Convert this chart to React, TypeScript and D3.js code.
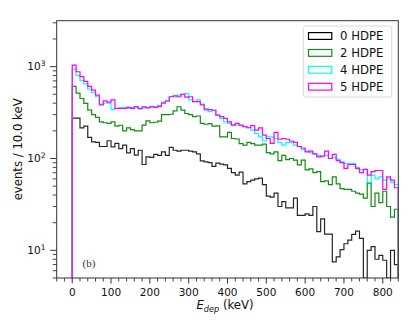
import React from "react";
import * as d3 from "d3";

// bins of 10 keV starting at 0 keV
const binWidth = 10;
const seriesNames = ["0 HDPE", "2 HDPE", "4 HDPE", "5 HDPE"];
const seriesColors = ["#000000", "#138a13", "#00ffff", "#ff00ff"];

const hdpe0 = [
  275, 275, 215, 225, 170, 152, 150, 135, 135, 156,
  134, 146, 128, 140, 115, 128, 109, 123, 86, 104,
  103, 111, 108, 118, 108, 132, 123, 120, 123, 123,
  120, 118, 112, 94, 92, 90, 82, 89, 87, 85,
  78, 70, 66, 71, 53, 56, 58, 60, 61, 52,
  39, 38, 42, 30, 34, 29, 29, 37, 24, 24,
  25, 24, 30, 16, 22, 15, 15, 7.5, 8.5, 10.2,
  11.8, 12.9, 14.9, 16.2, 13.5, 0, 10, 11, 8, 8.8,
  7.8, 0, 10, 7,
];
const hdpe2 = [
  610, 515, 450, 398, 336, 300, 280, 251, 245, 241,
  250, 225, 230, 200, 215, 206, 200, 200, 231, 257,
  245, 248, 255, 300, 300, 303, 330, 366, 336, 309,
  300, 285, 290, 241, 236, 240, 225, 226, 172, 172,
  192, 165, 163, 145, 140, 150, 145, 140, 140, 143,
  116, 112, 118, 95, 108, 97, 100, 96, 85, 96,
  75, 77, 70, 72, 56, 57, 52, 63, 53, 47,
  46, 46, 44, 42, 41, 37, 54, 30, 42, 33,
  44, 30, 23, 28,
];
const hdpe4 = [
  940, 800, 710, 650, 570, 520, 470, 390, 400, 400,
  340, 350, 355, 360, 350, 360, 365, 345, 355, 360,
  370, 365, 380, 410, 430, 470, 470, 490, 500, 510,
  434, 416, 434, 390, 335, 324, 335, 297, 273, 251,
  241, 231, 231, 228, 222, 216, 204, 188, 172, 155,
  172, 172, 165, 150, 140, 150, 150, 140, 135, 125,
  120, 115, 112, 108, 105, 108, 100, 103, 98, 92,
  88, 88, 88, 80, 75, 76, 55, 66, 60, 63,
  58, 60, 55, 52,
];
const hdpe5 = [
  1040, 880, 780, 690, 610, 556, 490, 383, 424, 410,
  434, 352, 352, 350, 360, 352, 365, 350, 365, 355,
  365, 360, 370, 400, 420, 470, 480, 470, 500, 465,
  470, 416, 416, 383, 345, 340, 335, 297, 285, 273,
  251, 231, 241, 231, 222, 216, 228, 204, 215, 180,
  165, 146, 192, 162, 165, 162, 155, 150, 135, 130,
  118, 120, 112, 104, 106, 120, 100, 111, 95, 90,
  78, 86, 86, 78, 70, 76, 66, 72, 74, 74,
  46, 63, 58, 48,
];
const allSeries = [hdpe0, hdpe2, hdpe4, hdpe5];

const xMajor = [0, 100, 200, 300, 400, 500, 600, 700, 800];
const yMajor = [1, 2, 3];

const W = 419;
const H = 327;
const left = 56.7;
const right = 398.3;
const top = 20.7;
const bottom = 278;

const x = d3.scaleLinear().domain([-40, 840]).range([left, right]);
const yMin = 5;
const y = d3.scaleLog().domain([yMin, Math.pow(10, 3.5)]).range([bottom, top]).clamp(true);

const stepLine = d3
  .line<[number, number]>()
  .x((d) => x(d[0]))
  .y((d) => y(Math.max(d[1], 0.1)))
  .curve(d3.curveStepAfter);

function pathFor(vals: number[]) {
  const pts: [number, number][] = [[0, 0]];
  vals.forEach((v, i) => pts.push([i * binWidth, v]));
  const end = vals.length * binWidth;
  pts.push([end, vals[vals.length - 1]]);
  pts.push([end, 0]);
  return stepLine(pts) || "";
}

export default function App() {
  const xMinor = d3.range(-40, 841, 20).filter((v) => v % 100 !== 0);
  const yMinor: number[] = [];
  for (let e = 0; e <= 3; e++) {
    for (let m = 2; m <= 9; m++) {
      const v = m * Math.pow(10, e);
      if (v >= yMin && v <= Math.pow(10, 3.5)) yMinor.push(v);
    }
  }
  const font = "DejaVu Sans, sans-serif";
  const axisColor = "#333";
  return (
    <svg
      width={W}
      height={H}
      style={{ position: "absolute", left: 0, top: 0, background: "#fff" }}
      fontFamily={font}
    >
      <defs>
        <clipPath id="plotclip">
          <rect x={left} y={top} width={right - left} height={bottom - top} />
        </clipPath>
      </defs>
      <g clipPath="url(#plotclip)">
        {allSeries.map((vals, i) => (
          <path
            key={i}
            d={pathFor(vals)}
            fill="none"
            stroke={seriesColors[i]}
            strokeWidth={1.2}
            opacity={i === 0 ? 0.85 : 1}
          />
        ))}
      </g>
      <text x={82.5} y={267} fontFamily="Liberation Serif, serif" fontSize={11} fill="#333">
        (b)
      </text>
      {/* frame */}
      <rect x={left} y={top} width={right - left} height={bottom - top} fill="none" stroke={axisColor} strokeWidth={1} />
      {/* x ticks */}
      {xMajor.map((v) => (
        <g key={"xm" + v}>
          <line x1={x(v)} x2={x(v)} y1={bottom} y2={bottom + 5.5} stroke={axisColor} strokeWidth={1} />
          <text x={x(v)} y={296} fontSize={10.5} textAnchor="middle" fill="#111">
            {v}
          </text>
        </g>
      ))}
      {xMinor.map((v) => (
        <line key={"xn" + v} x1={x(v)} x2={x(v)} y1={bottom} y2={bottom + 3.5} stroke={axisColor} strokeWidth={0.9} />
      ))}
      {/* y ticks */}
      {yMajor.map((e) => {
        const yy = y(Math.pow(10, e));
        return (
          <g key={"ym" + e}>
            <line x1={left - 6.5} x2={left} y1={yy} y2={yy} stroke={axisColor} strokeWidth={1} />
            <text x={45.5} y={yy + 3.8} fontSize={10.5} textAnchor="end" fill="#111">
              10
              <tspan dy={-4.5} fontSize={7.5}>
                {e}
              </tspan>
            </text>
          </g>
        );
      })}
      {yMinor.map((v) => (
        <line key={"yn" + v} x1={left - 4} x2={left} y1={y(v)} y2={y(v)} stroke={axisColor} strokeWidth={0.9} />
      ))}
      {/* axis labels */}
      <text x={225} y={309} fontSize={11.7} textAnchor="middle" fill="#111">
        <tspan fontStyle="italic">E</tspan>
        <tspan fontStyle="italic" fontSize={8.2} dy={2.5}>
          dep
        </tspan>
        <tspan dy={-2.5}> (keV)</tspan>
      </text>
      <text
        transform={`translate(22.3, ${(top + bottom) / 2}) rotate(-90)`}
        fontSize={11.7}
        textAnchor="middle"
        fill="#111"
      >
        events / 10.0 keV
      </text>
      {/* legend */}
      <rect x={303.3} y={26} width={88.4} height={71} rx={2.5} fill="#fff" fillOpacity={0.8} stroke="#d0d0d0" strokeWidth={0.8} />
      {seriesNames.map((name, i) => {
        const cy = 36 + i * 16.9;
        return (
          <g key={name}>
            <rect x={308.5} y={cy - 3.4} width={23.3} height={6.8} fill="none" stroke={seriesColors[i]} strokeWidth={1.2} />
            <text x={340} y={cy + 4.2} fontSize={11.7} fill="#111">
              {name}
            </text>
          </g>
        );
      })}
    </svg>
  );
}
